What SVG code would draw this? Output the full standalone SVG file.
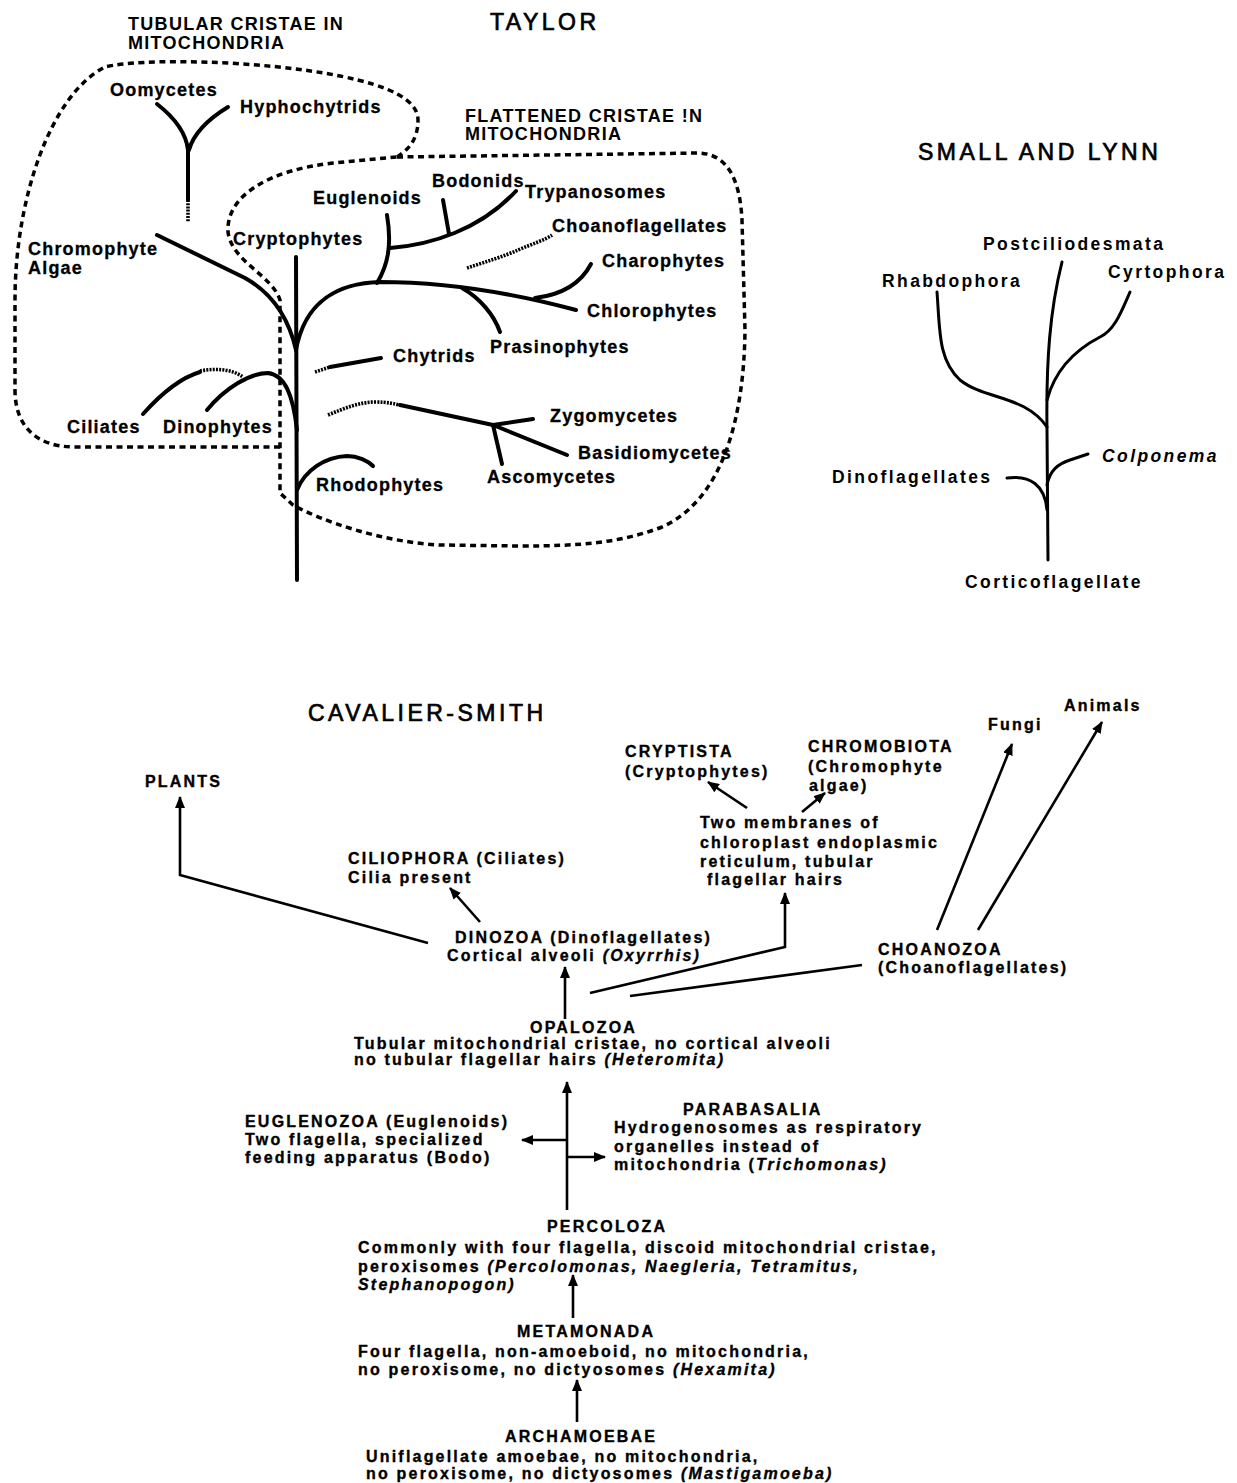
<svg xmlns="http://www.w3.org/2000/svg" width="1237" height="1483" viewBox="0 0 1237 1483">
<style>
.bg{fill:#fff}
.h{font-family:"Liberation Sans",Arial,sans-serif;font-size:23px;letter-spacing:3.5px;fill:#000;stroke:#000;stroke-width:0.7px}
.tt{font-family:"Liberation Sans",Arial,sans-serif;font-weight:bold;font-size:18px;letter-spacing:1.3px;fill:#000}
.t{font-family:"Liberation Sans",Arial,sans-serif;font-weight:bold;font-size:18px;letter-spacing:1.2px;fill:#000;stroke:#000;stroke-width:0.3px}
.s{font-family:"Liberation Sans",Arial,sans-serif;font-weight:bold;font-size:17.5px;letter-spacing:2.4px;fill:#000}
.c{font-family:"Liberation Sans",Arial,sans-serif;font-weight:bold;font-size:16px;letter-spacing:2.2px;fill:#000;stroke:#000;stroke-width:0.35px}
.it{font-style:italic}
.br{fill:none;stroke:#000;stroke-width:4;stroke-linecap:round;stroke-linejoin:round}
.sl{fill:none;stroke:#000;stroke-width:3;stroke-linecap:round}
.dot{fill:none;stroke:#000;stroke-width:3.6;stroke-dasharray:2 1.2}
.dash{fill:none;stroke:#000;stroke-width:3.5;stroke-dasharray:6 4.5}
.ar{fill:none;stroke:#000;stroke-width:2.6;marker-end:url(#ah)}
.ln{fill:none;stroke:#000;stroke-width:2.6}
</style>
<defs>
<marker id="ah" markerUnits="userSpaceOnUse" markerWidth="12" markerHeight="10" refX="11" refY="5" orient="auto"><path d="M0,0 L12,5 L0,10 z" fill="#000"/></marker>
</defs>
<rect class="bg" x="0" y="0" width="1237" height="1483"/>

<!-- TAYLOR -->
<g id="taylor-title"><text class="h" x="490" y="30">TAYLOR</text></g>
<g id="tubular-label"><text class="tt" x="128" y="30">TUBULAR CRISTAE IN</text><text class="tt" x="128" y="49">MITOCHONDRIA</text></g>
<g id="flattened-label"><text class="tt" x="465" y="122">FLATTENED CRISTAE !N</text><text class="tt" x="465" y="140">MITOCHONDRIA</text></g>

<g id="taylor-outlines">
<path class="dash" d="M280,447 L75,447 C35,447 15,425 15,390 L15,300 C15,200 50,95 105,67 C140,58 260,60 340,76 C390,86 418,100 418,120 C418,140 408,150 397,157"/>
<path class="dash" d="M397,157 L700,153 C728,155 740,180 742,220 L745,330 C744,420 722,500 662,527 C620,543 580,546 520,546 L440,545 C380,542 320,520 293,505 L280,493 L280,300 C272,275 232,262 228,232 C226,195 270,170 333,163 Z"/>
</g>

<g id="taylor-branches">
<path class="br" d="M296,257 L297,580"/>
<path class="br" d="M157,235 L245,278 C270,292 288,315 296,350"/>
<path class="br" d="M296,350 C305,300 340,283 380,282 C450,282 520,295 576,310"/>
<path class="br" d="M535,298 C560,295 580,285 591,264"/>
<path class="br" d="M462,288 C480,298 494,315 500,332"/>
<path class="br" d="M377,283 C388,265 392,245 387,215"/>
<path class="br" d="M390,248 C430,245 480,230 516,191"/>
<path class="br" d="M443,200 L449,234"/>
<path class="dot" d="M467,268 C485,262 505,256 518,250 C532,244 545,240 552,235"/>
<path class="dot" d="M315,372 L330,367"/>
<path class="br" d="M330,367 L381,358"/>
<path class="dot" d="M328,415 C345,408 360,402 375,402 C388,402 395,404 400,405"/>
<path class="br" d="M400,405 L493,425 L567,455"/>
<path class="br" d="M493,425 L533,419"/>
<path class="br" d="M493,425 L502,464"/>
<path class="br" d="M297,490 C305,470 325,457 347,456 C358,456 368,461 373,466"/>
<path class="br" d="M207,410 C225,388 250,373 268,373 C285,375 293,395 297,430"/>
<path class="br" d="M143,414 C160,395 180,378 200,372"/>
<path class="dot" d="M200,371 C215,368 232,369 243,377"/>
<path class="br" d="M157,104 C175,118 186,132 188,150 L188,200"/>
<path class="br" d="M228,107 C210,118 194,132 189,150"/>
<path class="dot" d="M188,200 L188,222"/>
</g>

<g id="oomycetes"><text class="t" x="110" y="96">Oomycetes</text></g>
<g id="hyphochytrids"><text class="t" x="240" y="113">Hyphochytrids</text></g>
<g id="chromophyte-algae"><text class="t" x="28" y="255">Chromophyte</text><text class="t" x="28" y="274">Algae</text></g>
<g id="cryptophytes"><text class="t" x="233" y="245">Cryptophytes</text></g>
<g id="euglenoids"><text class="t" x="313" y="204">Euglenoids</text></g>
<g id="bodonids"><text class="t" x="432" y="187">Bodonids</text></g>
<g id="trypanosomes"><text class="t" x="525" y="198">Trypanosomes</text></g>
<g id="choanoflagellates-t"><text class="t" x="552" y="232">Choanoflagellates</text></g>
<g id="charophytes"><text class="t" x="602" y="267">Charophytes</text></g>
<g id="chlorophytes"><text class="t" x="587" y="317">Chlorophytes</text></g>
<g id="prasinophytes"><text class="t" x="490" y="353">Prasinophytes</text></g>
<g id="chytrids"><text class="t" x="393" y="362">Chytrids</text></g>
<g id="zygomycetes"><text class="t" x="550" y="422">Zygomycetes</text></g>
<g id="basidiomycetes"><text class="t" x="578" y="459">Basidiomycetes</text></g>
<g id="ascomycetes"><text class="t" x="487" y="483">Ascomycetes</text></g>
<g id="rhodophytes"><text class="t" x="316" y="491">Rhodophytes</text></g>
<g id="ciliates-t"><text class="t" x="67" y="433">Ciliates</text></g>
<g id="dinophytes"><text class="t" x="163" y="433">Dinophytes</text></g>

<!-- SMALL AND LYNN -->
<g id="small-lynn-title"><text class="h" x="918" y="160">SMALL AND LYNN</text></g>
<g id="sl-branches">
<path class="sl" d="M1048,560 L1047,430 C1046,360 1050,310 1062,262"/>
<path class="sl" d="M937,292 C940,330 938,360 960,380 C985,400 1025,395 1047,427"/>
<path class="sl" d="M1047,400 C1055,370 1075,350 1100,337 C1115,330 1122,310 1130,292"/>
<path class="sl" d="M1047,485 C1050,470 1058,464 1070,460 L1088,454"/>
<path class="sl" d="M1007,478 C1030,475 1045,485 1047,510"/>
</g>
<g id="postciliodesmata"><text class="s" x="983" y="250">Postciliodesmata</text></g>
<g id="rhabdophora"><text class="s" x="882" y="287">Rhabdophora</text></g>
<g id="cyrtophora"><text class="s" x="1108" y="278">Cyrtophora</text></g>
<g id="colponema"><text class="s it" x="1102" y="462">Colponema</text></g>
<g id="dinoflagellates-sl"><text class="s" x="832" y="483">Dinoflagellates</text></g>
<g id="corticoflagellate"><text class="s" x="965" y="588">Corticoflagellate</text></g>

<!-- CAVALIER-SMITH -->
<g id="cs-title"><text class="h" x="308" y="721">CAVALIER-SMITH</text></g>
<g id="cs-connectors">
<polyline class="ar" points="428,943 180,875 180,797"/>
<line class="ar" x1="480" y1="922" x2="450" y2="888"/>
<line class="ar" x1="565" y1="1019" x2="565" y2="967"/>
<polyline class="ar" points="590,993 785,947 785,893"/>
<line class="ln" x1="630" y1="996" x2="862" y2="965"/>
<line class="ar" x1="747" y1="808" x2="708" y2="782"/>
<line class="ar" x1="802" y1="812" x2="825" y2="793"/>
<line class="ar" x1="937" y1="930" x2="1012" y2="744"/>
<line class="ar" x1="978" y1="930" x2="1102" y2="722"/>
<line class="ar" x1="567" y1="1210" x2="567" y2="1082"/>
<line class="ar" x1="567" y1="1140" x2="522" y2="1140"/>
<line class="ar" x1="567" y1="1157" x2="605" y2="1157"/>
<line class="ar" x1="573" y1="1318" x2="573" y2="1275"/>
<line class="ar" x1="577" y1="1422" x2="577" y2="1380"/>
</g>
<g id="plants"><text class="c" x="145" y="787">PLANTS</text></g>
<g id="ciliophora"><text class="c" x="348" y="864">CILIOPHORA (Ciliates)</text><text class="c" x="348" y="883">Cilia present</text></g>
<g id="dinozoa"><text class="c" x="455" y="943">DINOZOA (Dinoflagellates)</text><text class="c" x="447" y="961">Cortical alveoli <tspan class="it">(Oxyrrhis)</tspan></text></g>
<g id="cryptista"><text class="c" x="625" y="757">CRYPTISTA</text><text class="c" x="625" y="777">(Cryptophytes)</text></g>
<g id="chromobiota"><text class="c" x="808" y="752">CHROMOBIOTA</text><text class="c" x="808" y="772">(Chromophyte</text><text class="c" x="809" y="791">algae)</text></g>
<g id="two-membranes"><text class="c" x="700" y="828">Two membranes of</text><text class="c" x="700" y="848">chloroplast endoplasmic</text><text class="c" x="700" y="867">reticulum, tubular</text><text class="c" x="707" y="885">flagellar hairs</text></g>
<g id="fungi"><text class="c" x="988" y="730">Fungi</text></g>
<g id="animals"><text class="c" x="1064" y="711">Animals</text></g>
<g id="choanozoa"><text class="c" x="878" y="955">CHOANOZOA</text><text class="c" x="878" y="973">(Choanoflagellates)</text></g>
<g id="opalozoa"><text class="c" x="530" y="1033">OPALOZOA</text><text class="c" x="354" y="1049">Tubular mitochondrial cristae, no cortical alveoli</text><text class="c" x="354" y="1065">no tubular flagellar hairs  <tspan class="it">(Heteromita)</tspan></text></g>
<g id="euglenozoa"><text class="c" x="245" y="1127">EUGLENOZOA (Euglenoids)</text><text class="c" x="245" y="1145">Two flagella, specialized</text><text class="c" x="245" y="1163">feeding apparatus (Bodo)</text></g>
<g id="parabasalia"><text class="c" x="683" y="1115">PARABASALIA</text><text class="c" x="614" y="1133">Hydrogenosomes as respiratory</text><text class="c" x="614" y="1152">organelles instead of</text><text class="c" x="614" y="1170">mitochondria (<tspan class="it">Trichomonas)</tspan></text></g>
<g id="percoloza"><text class="c" x="547" y="1232">PERCOLOZA</text><text class="c" x="358" y="1253">Commonly with four flagella, discoid mitochondrial cristae,</text><text class="c" x="358" y="1272">peroxisomes <tspan class="it">(Percolomonas, Naegleria, Tetramitus,</tspan></text><text class="c it" x="358" y="1290">Stephanopogon)</text></g>
<g id="metamonada"><text class="c" x="517" y="1337">METAMONADA</text><text class="c" x="358" y="1357">Four flagella, non-amoeboid, no mitochondria,</text><text class="c" x="358" y="1375">no peroxisome, no dictyosomes <tspan class="it">(Hexamita)</tspan></text></g>
<g id="archamoebae"><text class="c" x="505" y="1442">ARCHAMOEBAE</text><text class="c" x="366" y="1462">Uniflagellate amoebae, no mitochondria,</text><text class="c" x="366" y="1479">no peroxisome, no dictyosomes <tspan class="it">(Mastigamoeba)</tspan></text></g>
</svg>
